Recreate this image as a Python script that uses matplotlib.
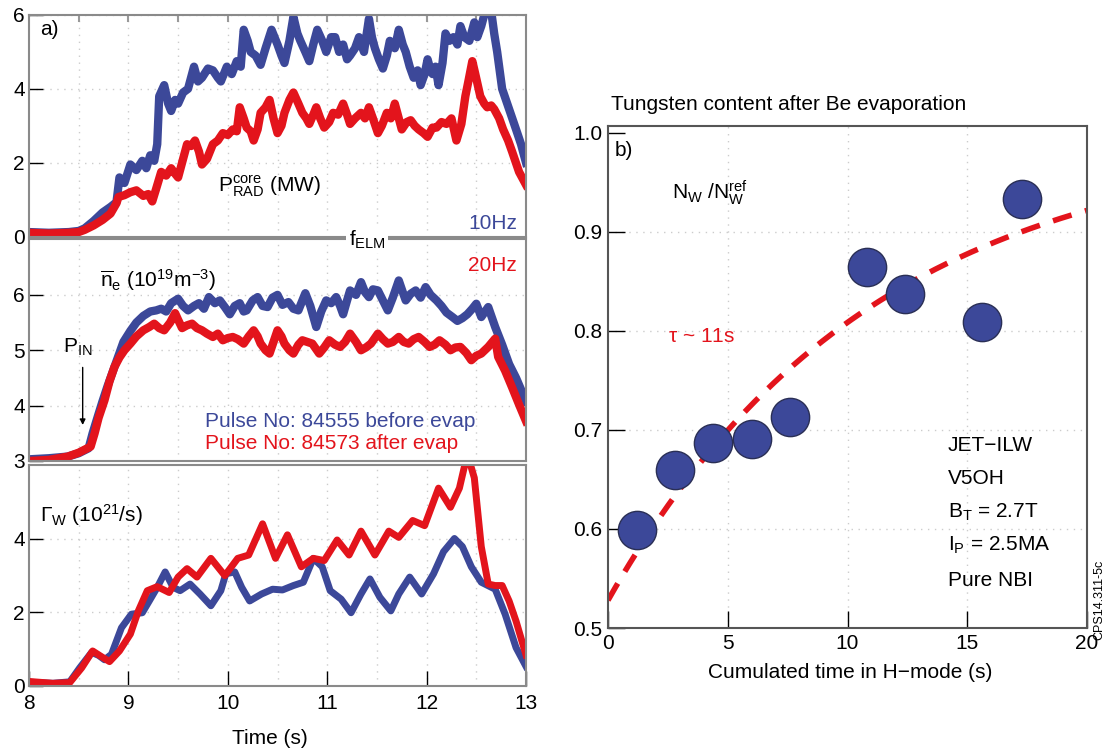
import numpy as np
import matplotlib
matplotlib.use("Agg")
import matplotlib.pyplot as plt

plt.rcParams['font.family'] = ['Liberation Sans', 'DejaVu Sans']
plt.rcParams['mathtext.fontset'] = 'custom'
plt.rcParams['mathtext.rm'] = 'Liberation Sans'
plt.rcParams['mathtext.it'] = 'Liberation Sans:italic'

BLUE = "#3c4899"
RED = "#e3141c"
SPINE = "#8a8a8a"
FS = 15

# --- P_RAD core (MW) ---
t_prad_b = [8.0, 8.2, 8.4, 8.5, 8.56, 8.65, 8.74, 8.82, 8.88, 8.91, 8.96, 9.02, 9.08, 9.14, 9.18,
            9.22, 9.26, 9.29, 9.31, 9.36, 9.40, 9.43, 9.47, 9.50, 9.55, 9.60, 9.66, 9.70, 9.74,
            9.80, 9.85, 9.90, 9.93, 9.99, 10.04, 10.09, 10.13, 10.16, 10.20, 10.23, 10.28, 10.33,
            10.38, 10.44, 10.50, 10.54, 10.57, 10.62, 10.66, 10.70, 10.73, 10.78, 10.82, 10.86,
            10.90, 10.95, 10.99, 11.04, 11.08, 11.12, 11.16, 11.20, 11.23, 11.28, 11.32, 11.37,
            11.42, 11.45, 11.48, 11.52, 11.56, 11.60, 11.63, 11.68, 11.72, 11.76, 11.79, 11.83,
            11.87, 11.91, 11.94, 11.98, 12.01, 12.04, 12.06, 12.09, 12.12, 12.16, 12.19, 12.23,
            12.27, 12.31, 12.34, 12.38, 12.43, 12.46, 12.48, 12.51, 12.55, 12.60, 12.65, 12.68,
            12.71, 12.76, 12.83, 12.90, 12.95, 13.0]
p_prad_b = [0.12, 0.10, 0.12, 0.15, 0.22, 0.42, 0.65, 0.80, 0.93, 1.60, 1.45, 1.95, 1.80, 2.05, 1.85,
            2.20, 2.05, 2.50, 3.80, 4.10, 3.60, 3.40, 3.70, 3.60, 3.90, 4.00, 4.60, 4.20, 4.30,
            4.55, 4.50, 4.30, 4.20, 4.60, 4.40, 4.75, 4.60, 5.60, 5.30, 5.00, 4.90, 4.65,
            5.10, 5.60, 5.20, 4.90, 4.70, 5.30, 5.95, 5.50, 5.30, 5.00, 4.75, 5.20,
            5.60, 5.30, 5.00, 5.40, 5.40, 5.00, 5.20, 4.80, 4.90, 5.10, 5.40, 5.00,
            5.90, 5.40, 5.10, 4.80, 4.55, 4.90, 5.30, 5.10, 5.60, 5.20, 5.00, 4.60,
            4.30, 4.50, 4.10, 4.40, 4.80, 4.50, 4.40, 4.60, 4.10, 4.70, 5.50, 5.30,
            5.40, 5.20, 5.70, 5.40, 5.30, 5.60, 5.80, 5.40, 5.70, 6.20, 6.10, 5.50,
            5.00, 4.00, 3.45, 2.90, 2.50, 2.00]

t_prad_r = [8.0, 8.2, 8.4, 8.5, 8.56, 8.65, 8.74, 8.82, 8.88, 8.90, 8.96, 9.02, 9.08, 9.15, 9.20,
            9.24, 9.28, 9.33, 9.38, 9.43, 9.47, 9.50, 9.55, 9.59, 9.63, 9.67, 9.71, 9.74, 9.79,
            9.85, 9.90, 9.95, 10.00, 10.05, 10.09, 10.12, 10.16, 10.19, 10.23, 10.26, 10.30,
            10.33, 10.38, 10.42, 10.46, 10.50, 10.54, 10.57, 10.62, 10.66, 10.71, 10.75, 10.79,
            10.82, 10.86, 10.89, 10.93, 10.97, 11.02, 11.06, 11.11, 11.16, 11.20, 11.23, 11.28,
            11.34, 11.38, 11.42, 11.46, 11.51, 11.55, 11.60, 11.64, 11.68, 11.72, 11.75, 11.80,
            11.84, 11.88, 11.92, 11.97, 12.01, 12.06, 12.10, 12.15, 12.20, 12.25, 12.30, 12.35,
            12.39, 12.42, 12.46, 12.49, 12.54, 12.58, 12.61, 12.65, 12.68, 12.73, 12.77, 12.82,
            12.86, 12.93, 13.0]
p_prad_r = [0.10, 0.08, 0.10, 0.12, 0.18, 0.30, 0.45, 0.62, 0.90, 1.07, 1.12, 1.20, 1.25, 1.10, 1.15,
            0.95, 1.30, 1.75, 1.65, 1.85, 1.70, 1.60, 2.10, 2.50, 2.45, 2.60, 2.30, 1.95, 2.10,
            2.50, 2.60, 2.80, 2.75, 2.90, 2.85, 3.50, 3.20, 2.95, 2.85, 2.60, 2.90,
            3.35, 3.50, 3.70, 3.20, 2.80, 3.00, 3.35, 3.70, 3.90, 3.60, 3.35, 3.20,
            3.05, 3.30, 3.50, 3.20, 2.95, 3.10, 3.35, 3.30, 3.60, 3.30, 3.05, 3.20,
            3.35, 3.20, 3.50, 3.20, 2.80, 3.00, 3.35, 3.20, 3.60, 3.20, 2.90, 3.10,
            3.15, 3.00, 2.90, 2.80, 2.70, 2.95, 2.95, 3.10, 3.05, 3.20, 2.60, 3.05,
            3.80, 4.20, 4.75, 4.40, 3.80, 3.60, 3.50, 3.55, 3.45, 3.20, 2.90, 2.60,
            2.30, 1.75, 1.40]

# --- line averaged density (10^19 m^-3) ---
t_ne_b = [8.0, 8.2, 8.39, 8.5, 8.6, 8.64, 8.70, 8.74, 8.79, 8.84, 8.90, 8.95, 9.02, 9.08, 9.15,
          9.22, 9.28, 9.33, 9.38, 9.43, 9.50, 9.55, 9.60, 9.66, 9.71, 9.76, 9.81, 9.87, 9.92,
          9.97, 10.02, 10.07, 10.12, 10.16, 10.19, 10.25, 10.30, 10.35, 10.40, 10.45, 10.50,
          10.55, 10.61, 10.66, 10.71, 10.78, 10.83, 10.89, 10.94, 10.99, 11.04, 11.09, 11.13,
          11.16, 11.20, 11.23, 11.29, 11.34, 11.38, 11.42, 11.46, 11.51, 11.56, 11.61, 11.66,
          11.72, 11.76, 11.79, 11.84, 11.89, 11.94, 11.99, 12.04, 12.10, 12.15, 12.20, 12.26,
          12.31, 12.36, 12.41, 12.46, 12.50, 12.55, 12.62, 12.69, 12.76, 12.83, 12.90, 13.0]
n_ne_b = [3.03, 3.05, 3.08, 3.14, 3.23, 3.50, 3.85, 4.08, 4.35, 4.60, 4.90, 5.15, 5.35, 5.50, 5.62,
          5.70, 5.72, 5.75, 5.70, 5.85, 5.93, 5.80, 5.72, 5.80, 5.85, 5.75, 5.96, 5.85, 5.90,
          5.78, 5.65, 5.80, 5.85, 5.70, 5.72, 5.90, 5.96, 5.80, 5.78, 5.95, 6.00,
          5.82, 5.87, 5.75, 5.72, 6.03, 5.80, 5.42, 5.70, 5.90, 5.85, 5.96, 5.80,
          5.65, 5.90, 6.08, 6.00, 6.23, 6.05, 5.96, 6.10, 6.08, 5.90, 5.72, 5.95,
          6.26, 6.05, 5.90, 6.02, 6.08, 5.95, 6.14, 6.00, 5.90, 5.80, 5.68, 5.60,
          5.53, 5.58, 5.65, 5.75, 5.84, 5.60, 5.78, 5.42, 5.10, 4.75, 4.50, 4.08]

t_ne_r = [8.0, 8.2, 8.39, 8.5, 8.62, 8.66, 8.70, 8.76, 8.81, 8.86, 8.91, 8.96, 9.02, 9.08, 9.15,
          9.21, 9.26, 9.31, 9.36, 9.42, 9.47, 9.50, 9.54, 9.59, 9.64, 9.69, 9.74, 9.79, 9.85,
          9.90, 9.95, 10.00, 10.05, 10.10, 10.16, 10.21, 10.26, 10.30, 10.33, 10.38, 10.42,
          10.46, 10.50, 10.54, 10.57, 10.62, 10.66, 10.71, 10.75, 10.80, 10.85, 10.92, 10.97,
          11.02, 11.08, 11.13, 11.18, 11.23, 11.29, 11.34, 11.39, 11.44, 11.51, 11.56, 11.61,
          11.66, 11.72, 11.77, 11.82, 11.87, 11.92, 11.98, 12.03, 12.08, 12.13, 12.19, 12.24,
          12.29, 12.34, 12.40, 12.45, 12.50, 12.55, 12.62, 12.69, 12.72, 12.79, 12.86, 12.93, 13.0]
n_ne_r = [3.00, 3.02, 3.08, 3.15, 3.26, 3.50, 3.78, 4.10, 4.44, 4.70, 4.87, 5.00, 5.12, 5.25, 5.36,
          5.42, 5.48, 5.40, 5.36, 5.50, 5.67, 5.55, 5.40, 5.45, 5.48, 5.40, 5.36, 5.30, 5.24,
          5.30, 5.18, 5.22, 5.24, 5.20, 5.12, 5.25, 5.36, 5.25, 5.12, 5.00, 4.94,
          5.15, 5.36, 5.25, 5.12, 5.00, 4.94, 5.10, 5.18, 5.15, 5.12, 4.94, 5.05,
          5.18, 5.10, 5.06, 5.15, 5.30, 5.15, 5.00, 5.05, 5.12, 5.30, 5.20, 5.12,
          5.15, 5.24, 5.15, 5.12, 5.20, 5.24, 5.15, 5.06, 5.10, 5.18, 5.10, 5.00,
          5.05, 5.06, 4.95, 4.82, 4.90, 4.94, 5.06, 5.21, 4.88, 4.63, 4.33, 4.02, 3.72]

# --- tungsten source (10^21/s) ---
t_gw_b = [8.0, 8.24, 8.41, 8.51, 8.63, 8.70, 8.76, 8.83, 8.93, 9.03, 9.14, 9.21, 9.29, 9.37, 9.45,
          9.52, 9.62, 9.72, 9.83, 9.93, 9.98, 10.07, 10.14, 10.22, 10.34, 10.45, 10.55, 10.66,
          10.76, 10.86, 10.95, 11.03, 11.14, 11.24, 11.34, 11.43, 11.53, 11.64, 11.72, 11.83,
          11.95, 12.07, 12.17, 12.28, 12.36, 12.45, 12.55, 12.69, 12.79, 12.90, 13.0]
g_gw_b = [0.09, 0.06, 0.10, 0.48, 0.90, 0.82, 0.70, 0.85, 1.57, 1.94, 1.98, 2.30, 2.67, 3.09, 2.67,
          2.58, 2.76, 2.49, 2.17, 2.58, 3.04, 3.09, 2.67, 2.30, 2.49, 2.62, 2.60, 2.72,
          2.81, 3.46, 3.23, 2.58, 2.35, 1.98, 2.49, 2.90, 2.40, 2.03, 2.49, 2.95,
          2.49, 3.04, 3.64, 4.00, 3.78, 3.23, 2.81, 2.62, 1.94, 1.03, 0.52]

t_gw_r = [8.0, 8.24, 8.41, 8.53, 8.64, 8.72, 8.81, 8.91, 9.02, 9.10, 9.19, 9.29, 9.41, 9.50, 9.59,
          9.69, 9.83, 9.97, 10.10, 10.21, 10.35, 10.48, 10.60, 10.74, 10.86, 10.97, 11.10, 11.22,
          11.34, 11.48, 11.62, 11.72, 11.86, 11.98, 12.12, 12.24, 12.33, 12.41, 12.48, 12.55,
          12.62, 12.69, 12.76, 12.83, 12.90, 13.0]
g_gw_r = [0.11, 0.06, 0.08, 0.48, 0.94, 0.80, 0.65, 0.94, 1.40, 2.03, 2.58, 2.69, 2.53, 2.95, 3.18,
          2.95, 3.46, 2.99, 3.46, 3.55, 4.40, 3.46, 4.10, 3.23, 3.46, 3.40, 3.96, 3.55,
          4.20, 3.55, 4.20, 4.03, 4.49, 4.35, 5.37, 4.85, 5.37, 6.30, 5.65, 3.78,
          2.76, 2.72, 2.72, 2.30, 1.75, 0.83]

# --- panel b: W content vs cumulated H-mode time ---
cum_time = [1.2, 2.8, 4.4, 6.0, 7.6, 10.8, 12.4, 15.6, 17.3]
nw_ratio = [0.599, 0.660, 0.687, 0.691, 0.713, 0.865, 0.837, 0.809, 0.933]
tau_fit = 11.0
fit_a = 0.998
fit_b = 0.470
info_lines = ["JET\u2212ILW", "V5OH", r"$\mathregular{B_T}$ = 2.7T",
              r"$\mathregular{I_P}$ = 2.5MA", "Pure NBI"]

W, H = 1105, 752
fig = plt.figure(figsize=(W / 100, H / 100), dpi=100)


def box(l, t, r, b):
    return [l / W, 1 - b / H, (r - l) / W, (b - t) / H]


def style_left(ax, yticks):
    ax.set_xlim(8, 13)
    ax.set_yticks(yticks)
    for s in ax.spines.values():
        s.set_color(SPINE)
        s.set_linewidth(1.5)
    ax.tick_params(axis='y', direction='in', length=10, width=1.0, color='black',
                   labelsize=FS, pad=3)
    ax.tick_params(axis='x', direction='in', length=11, width=1.0, color='black',
                   labelsize=FS, pad=6)
    for x in [8.5, 9, 9.5, 10, 10.5, 11, 11.5, 12, 12.5]:
        ax.axvline(x, color='#cccccc', lw=1.0, ls=(0, (1, 4)), zorder=0)
    for y in yticks:
        ax.axhline(y, color='#cccccc', lw=1.0, ls=(0, (1, 4)), zorder=0)


ax1 = fig.add_axes(box(29, 15, 526, 236.5))
ax1.plot(t_prad_b, p_prad_b, color=BLUE, lw=6, solid_joinstyle='round')
ax1.plot(t_prad_r, p_prad_r, color=RED, lw=6, solid_joinstyle='round')
ax1.set_ylim(0, 6)
style_left(ax1, [0, 2, 4, 6])
ax1.set_xticks([])
ax1.set_xticks(np.arange(8.5, 13, 0.5), minor=True)
ax1.tick_params(axis='x', which='minor', direction='in', top=True, bottom=False,
                length=5, color='#999999', width=1.5)
ax1.text(8.11, 5.6, "a)", fontsize=FS, va='center')
ax1.text(9.9, 1.35, r"$\mathregular{P_{RAD}^{core}}$ (MW)", fontsize=FS, va='center')
ax1.text(12.91, 0.35, "10Hz", color=BLUE, fontsize=FS, ha='right', va='center')

ax2 = fig.add_axes(box(29, 239.5, 526, 461))
ax2.plot(t_ne_b, n_ne_b, color=BLUE, lw=6, solid_joinstyle='round')
ax2.plot(t_ne_r, n_ne_r, color=RED, lw=6, solid_joinstyle='round')
ax2.set_ylim(3, 7)
style_left(ax2, [3, 4, 5, 6])
ax2.set_xticks([])
ax2.text(12.91, 6.53, "20Hz", color=RED, fontsize=FS, ha='right', va='center')
ax2.text(8.71, 6.27, r"$\mathregular{\overline{n}_e}$ $\mathregular{(10^{19}m^{-3})}$",
         fontsize=FS, va='center')
ax2.text(8.34, 5.06, r"$\mathregular{P_{IN}}$", fontsize=FS, va='center')
ax2.annotate("", xy=(8.54, 3.6), xytext=(8.54, 4.74),
             arrowprops=dict(arrowstyle='-|>', color='black', lw=1.0, mutation_scale=8))
ax2.text(9.77, 3.72, "Pulse No: 84555 before evap", color=BLUE, fontsize=FS, va='center')
ax2.text(9.77, 3.31, "Pulse No: 84573 after evap", color=RED, fontsize=FS, va='center')

ax3 = fig.add_axes(box(29, 465, 526, 685.5))
ax3.plot(t_gw_b, g_gw_b, color=BLUE, lw=5.0, solid_joinstyle='round')
ax3.plot(t_gw_r, g_gw_r, color=RED, lw=5.0, solid_joinstyle='round')
ax3.set_ylim(0, 6)
style_left(ax3, [0, 2, 4])
ax3.set_xticks([8, 9, 10, 11, 12, 13])
ax3.text(8.11, 4.65, r"$\mathregular{Γ_W}$ $\mathregular{(10^{21}/s)}$", fontsize=FS,
         va='center')
fig.text(270 / W, 1 - 738 / H, "Time (s)", fontsize=FS, ha='center', va='center')

# f_ELM tag sitting on the boundary between the two upper panels
fig.text(367 / W, 1 - 240 / H, r"$\mathregular{f_{ELM}}$", fontsize=FS, ha='center',
         va='center', bbox=dict(facecolor='white', edgecolor='none', pad=1.5), zorder=10)

# --- panel b ---
axb = fig.add_axes(box(608, 126, 1087, 628))
axb.set_xlim(0, 20)
axb.set_ylim(0.5, 1.007)
axb.set_xticks([0, 5, 10, 15, 20])
axb.set_yticks([0.5, 0.6, 0.7, 0.8, 0.9, 1.0])
axb.set_yticklabels(["0.5", "0.6", "0.7", "0.8", "0.9", "1.0"])
for s in axb.spines.values():
    s.set_color('#555555')
    s.set_linewidth(1.5)
axb.tick_params(direction='in', length=12, width=1.0, color='black', labelsize=FS, pad=4)
for x in [5, 10, 15]:
    axb.axvline(x, color='#cccccc', lw=1.0, ls=(0, (1, 4)), zorder=0)
for y in [0.6, 0.7, 0.8, 0.9]:
    axb.axhline(y, color='#cccccc', lw=1.0, ls=(0, (1, 4)), zorder=0)

t_fit = np.linspace(0, 20, 200)
axb.plot(t_fit, fit_a - fit_b * np.exp(-t_fit / tau_fit), color=RED, lw=4.0,
         ls=(0, (3.5, 2.5)), zorder=2)
axb.scatter(cum_time, nw_ratio, s=760, color=BLUE, edgecolor='#2a2f55', linewidth=1.0,
            zorder=3)

axb.text(0.3, 0.982, "b)", fontsize=FS, va='center')
axb.text(2.67, 0.94, r"$\mathregular{N_W}$ /$\mathregular{N_W^{ref}}$", fontsize=FS,
         va='center')
axb.text(2.5, 0.794, r"$\mathregular{τ}$ ~ 11s", color=RED, fontsize=FS, va='center')
for yv, line in zip([0.684, 0.651, 0.617, 0.583, 0.548], info_lines):
    axb.text(14.2, yv, line, fontsize=FS, va='center')
fig.text(611 / W, 1 - 104 / H, "Tungsten content after Be evaporation", fontsize=FS,
         ha='left', va='center')
fig.text(850 / W, 1 - 672 / H, "Cumulated time in H\u2212mode (s)", fontsize=FS,
         ha='center', va='center')
fig.text(1099 / W, 1 - 600 / H, "CPS14.311-5c", fontsize=9, rotation=90,
         ha='center', va='center')

fig.savefig("out.png", dpi=100)
